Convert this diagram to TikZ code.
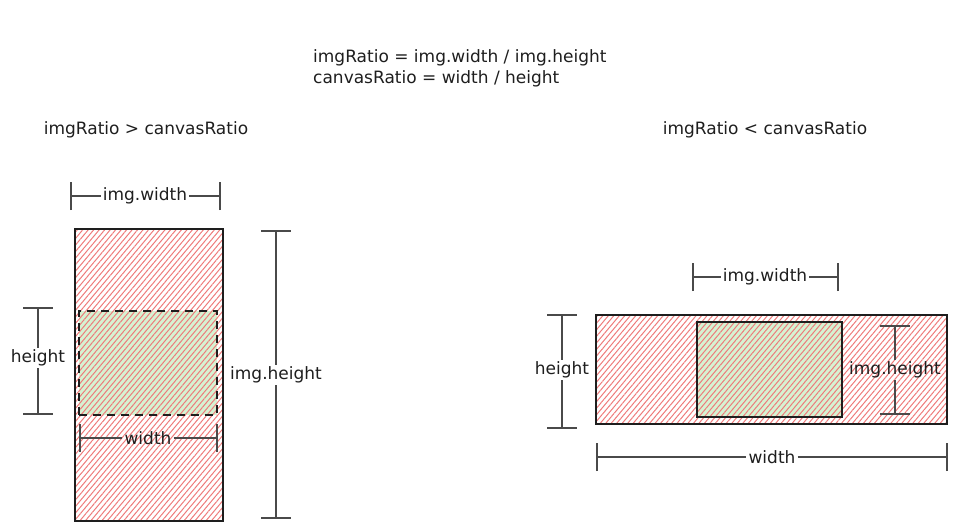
\documentclass[tikz,border=0pt]{standalone}
\usepackage{fontspec}
\setmainfont{DejaVu Sans}
\usetikzlibrary{patterns.meta}
\definecolor{ink}{HTML}{1E1E1E}
\definecolor{dimgray}{HTML}{4A4A4A}
\definecolor{hatchred}{HTML}{EE7A7A}
\definecolor{canvasgreen}{HTML}{D6F2D2}

\begin{document}
\begin{tikzpicture}[
  x=1pt, y=-1pt,
  txt/.style={font=\fontsize{17}{21}\selectfont, text=ink, inner sep=2pt},
  dimline/.style={draw=dimgray, line width=1.3pt},
  hatch/.style={pattern={Lines[angle=50, distance=4.2pt, line width=1pt]}, pattern color=hatchred},
  imgbox/.style={draw=ink, line width=1.4pt, hatch, inner sep=0pt},
  canvasbox/.style={draw=ink, line width=1.4pt, preaction={fill=canvasgreen}, hatch, inner sep=0pt}
]
\useasboundingbox (0,0) rectangle (957,531);

% formulas
\node[txt, anchor=west, align=left] (ratios) at (311,68)
  {imgRatio = img.width / img.height\\canvasRatio = width / height};
\node[txt] (caseA) at (146,130) {imgRatio > canvasRatio};
\node[txt] (caseB) at (765,130) {imgRatio < canvasRatio};

% left case: image taller than canvas
\node[imgbox, minimum width=148pt, minimum height=292pt] (imgA) at (149,375) {};
\node[canvasbox, dashed, dash pattern=on 8pt off 6pt,
      minimum width=138pt, minimum height=104pt] (canA) at (148,363) {};

% right case: image wider than canvas
\node[imgbox, minimum width=351pt, minimum height=109pt] (canB) at (771.5,369.5) {};
\node[canvasbox, minimum width=145pt, minimum height=95pt] (imgB) at (769.5,369.5) {};

% dimension end points
\coordinate (iwA1) at (71,196);  \coordinate (iwA2) at (220,196);
\coordinate (hA1)  at (38,308);  \coordinate (hA2)  at (38,414);
\coordinate (ihA1) at (276,231); \coordinate (ihA2) at (276,518);
\coordinate (wA1)  at (80,438);  \coordinate (wA2)  at (217,438);
\coordinate (iwB1) at (693,277); \coordinate (iwB2) at (838,277);
\coordinate (hB1)  at (562,315); \coordinate (hB2)  at (562,428);
\coordinate (ihB1) at (895,326); \coordinate (ihB2) at (895,414);
\coordinate (wB1)  at (597,457); \coordinate (wB2)  at (947,457);

% dimension labels
\node[txt] (iwA) at (145,196) {img.width};
\node[txt] (hA)  at (38,358)  {height};
\node[txt] (ihA) at (276,375) {img.height};
\node[txt] (wA)  at (148,438) {width};
\node[txt] (iwB) at (765,277) {img.width};
\node[txt] (hB)  at (562,370) {height};
\node[txt] (ihB) at (895,370) {img.height};
\node[txt] (wB)  at (772,457) {width};

% horizontal dimensions
\foreach \d in {iwA,wA,iwB,wB} {
  \draw[dimline] (\d1) -- (\d.west);
  \draw[dimline] (\d.east) -- (\d2);
  \draw[dimline] ([yshift=-14pt]\d1) -- ([yshift=14pt]\d1);
  \draw[dimline] ([yshift=-14pt]\d2) -- ([yshift=14pt]\d2);
}
% vertical dimensions
\foreach \d in {hA,ihA,hB,ihB} {
  \draw[dimline] (\d1) -- (\d.north);
  \draw[dimline] (\d.south) -- (\d2);
  \draw[dimline] ([xshift=-15pt]\d1) -- ([xshift=15pt]\d1);
  \draw[dimline] ([xshift=-15pt]\d2) -- ([xshift=15pt]\d2);
}
\end{tikzpicture}
\end{document}
